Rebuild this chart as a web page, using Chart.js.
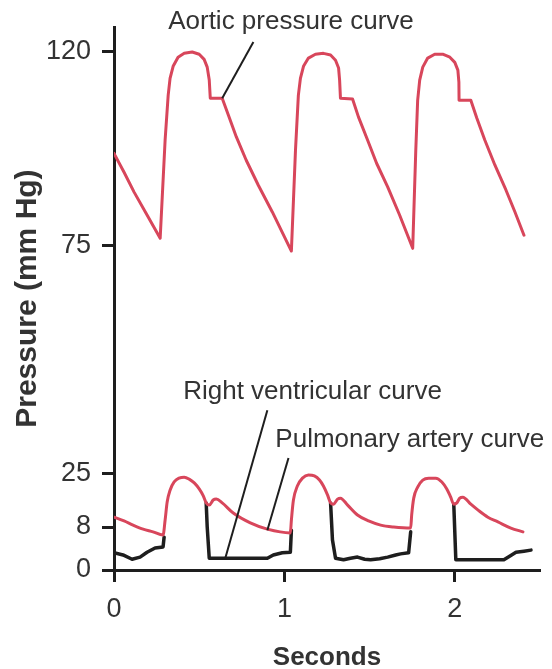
<!DOCTYPE html>
<html>
<head>
<meta charset="utf-8">
<script src="https://cdn.jsdelivr.net/npm/chart.js@4/dist/chart.umd.min.js"></script>
<style>
  html, body { margin: 0; padding: 0; background: #fff; }
  #wrap { width: 552px; height: 669px; }
</style>
</head>
<body>
<div id="wrap"><canvas id="pressureChart" width="552" height="669"></canvas></div>
<script>
// time in seconds, pressure in mm Hg
const aorticT = [0, 0.059, 0.118, 0.194, 0.271, 0.300, 0.318, 0.329, 0.347, 0.376, 0.412, 0.459, 0.500, 0.529, 0.547, 0.559, 0.565, 0.635, 0.671, 0.718, 0.776, 0.847, 0.929, 1.041,
  1.065, 1.082, 1.094, 1.112, 1.141, 1.182, 1.229, 1.271, 1.300, 1.318, 1.324, 1.329, 1.400, 1.435, 1.488, 1.541, 1.606, 1.676, 1.753,
  1.771, 1.782, 1.794, 1.812, 1.841, 1.882, 1.929, 1.971, 2.000, 2.018, 2.024, 2.025, 2.094, 2.129, 2.176, 2.235, 2.300, 2.353, 2.406];
const aorticP = [96.3, 91.9, 87.3, 82.0, 76.6, 99.4, 109.8, 113.7, 116.5, 118.6, 119.5, 119.8, 119.3, 118.1, 116.3, 113.3, 109.1, 109.1, 105.2, 100.1, 94.7, 88.9, 82.7, 73.7,
  97.0, 109.8, 113.7, 116.5, 118.4, 119.3, 119.5, 119.1, 117.9, 116.1, 113.3, 109.1, 108.9, 104.7, 99.4, 94.0, 88.5, 82.0, 74.3,
  97.0, 108.6, 113.3, 116.3, 118.4, 119.3, 119.3, 118.6, 117.4, 115.6, 112.8, 108.6, 108.6, 104.5, 99.4, 93.6, 87.8, 82.7, 77.3];

const pulmT = [0, 0.059, 0.112, 0.171, 0.229, 0.288, 0.300, 0.312, 0.329, 0.353, 0.382, 0.412, 0.441, 0.471, 0.500, 0.524, 0.541, 0.559, 0.582, 0.600, 0.635, 0.700, 0.800, 0.900, 1.035,
  1.041, 1.053, 1.076, 1.106, 1.141, 1.176, 1.206, 1.229, 1.253, 1.271, 1.288, 1.312, 1.329, 1.371, 1.429, 1.494, 1.565, 1.641, 1.741,
  1.747, 1.759, 1.782, 1.812, 1.847, 1.888, 1.924, 1.953, 1.976, 1.994, 2.012, 2.029, 2.047, 2.094, 2.135, 2.194, 2.253, 2.329, 2.400];
const pulmP = [11.1, 9.9, 8.6, 7.6, 7.1, 6.5, 10.2, 15.9, 19.6, 22.2, 23.4, 23.7, 23.1, 21.9, 20.0, 17.8, 15.6, 14.9, 16.5, 16.8, 15.6, 12.4, 9.3, 7.6, 6.9,
  10.2, 16.5, 20.9, 23.4, 24.4, 24.1, 22.8, 20.9, 18.1, 15.6, 15.2, 16.8, 17.1, 14.9, 11.8, 9.9, 8.6, 8.0, 7.8,
  11.8, 17.1, 20.6, 22.8, 23.4, 23.4, 22.2, 20.0, 17.4, 15.2, 15.6, 17.1, 17.4, 15.2, 13.4, 11.1, 9.6, 7.8, 7.1];

// right ventricle; hidden under the pulmonary curve during ejection (null = gap)
const rvT = [0, 0.053, 0.106, 0.153, 0.194, 0.241, 0.288, 0.294, 0.42, 0.541, 0.547, 0.559, 0.900, 0.935, 0.988, 1.035, 1.041,
  1.15, 1.271, 1.282, 1.300, 1.347, 1.388, 1.429, 1.471, 1.506, 1.559, 1.606, 1.653, 1.682, 1.729, 1.741,
  1.87, 1.994, 2.006, 2.288, 2.324, 2.359, 2.406, 2.447];
const rvP = [3.2, 2.8, 2.0, 2.4, 3.3, 4.1, 4.3, 6.1, null, 15.6, 8.0, 2.2, 2.2, 2.8, 3.2, 3.3, 7.4,
  null, 15.6, 5.6, 2.2, 1.9, 2.2, 2.4, 2.0, 1.9, 2.1, 2.4, 2.8, 3.0, 3.2, 7.1,
  null, 15.2, 1.9, 1.9, 2.6, 3.3, 3.5, 3.7];

const xTicks = [0, 1, 2];
const yTicks = [0, 8, 25, 75, 120];

// the figure's pressure axis is not evenly spaced: value -> share of axis height
const yBreakValues = [0, 8, 25, 75, 120, 125.5];
const yBreakShares = [0, 0.0792, 0.1786, 0.5985, 0.9558, 1];

// callout labels, placed in data units
const notes = [
  { text: 'Aortic pressure curve', at: [0.318, 126.7], from: [0.818, 122.1], to: [0.635, 109.1] },
  { text: 'Right ventricular curve', at: [0.406, 42.8], from: [0.900, 38.8], to: [0.653, 2.2] },
  { text: 'Pulmonary artery curve', at: [0.947, 32.2], from: [1.024, 28.3], to: [0.900, 7.4] }
];

const RED = '#d8465b';
const INK = '#1e1e1e';
const TXT = '#333333';
const FONT = '"Liberation Sans", Arial, sans-serif';

function toShare(v) {
  const n = yBreakValues.length;
  let i = 0;
  while (i < n - 2 && v > yBreakValues[i + 1]) i++;
  const v0 = yBreakValues[i], v1 = yBreakValues[i + 1];
  const s0 = yBreakShares[i], s1 = yBreakShares[i + 1];
  return s0 + (v - v0) / (v1 - v0) * (s1 - s0);
}
function fromShare(s) {
  const n = yBreakShares.length;
  let i = 0;
  while (i < n - 2 && s > yBreakShares[i + 1]) i++;
  const v0 = yBreakValues[i], v1 = yBreakValues[i + 1];
  const s0 = yBreakShares[i], s1 = yBreakShares[i + 1];
  return v0 + (s - s0) / (s1 - s0) * (v1 - v0);
}

const LinearScale = Chart.LinearScale || Chart.registry.getScale('linear');
class PiecewiseScale extends LinearScale {
  getPixelForValue(value) {
    if (value === null || isNaN(value)) return NaN;
    return this.getPixelForDecimal(toShare(value));
  }
  getValueForPixel(pixel) {
    return fromShare(this.getDecimalForPixel(pixel));
  }
}
PiecewiseScale.id = 'piecewise';
PiecewiseScale.defaults = LinearScale.defaults;
Chart.register(PiecewiseScale);

const pairs = (t, p) => t.map((x, i) => ({ x: x, y: p[i] }));

const calloutPlugin = {
  id: 'callouts',
  afterDatasetsDraw(chart) {
    const ctx = chart.ctx;
    const xs = chart.scales.x, ys = chart.scales.y;
    const px = a => [xs.getPixelForValue(a[0]), ys.getPixelForValue(a[1])];
    ctx.save();
    ctx.strokeStyle = INK;
    ctx.lineWidth = 2;
    ctx.fillStyle = TXT;
    ctx.font = '26px ' + FONT;
    ctx.textAlign = 'left';
    ctx.textBaseline = 'middle';
    notes.forEach(n => {
      const a = px(n.from), b = px(n.to), c = px(n.at);
      ctx.beginPath();
      ctx.moveTo(a[0], a[1]);
      ctx.lineTo(b[0], b[1]);
      ctx.stroke();
      ctx.fillText(n.text, c[0], c[1]);
    });
    ctx.restore();
  }
};

new Chart(document.getElementById('pressureChart'), {
  type: 'line',
  data: {
    datasets: [
      {
        label: 'Aortic pressure curve',
        data: pairs(aorticT, aorticP),
        borderColor: RED,
        borderWidth: 3,
        order: 1
      },
      {
        label: 'Pulmonary artery curve',
        data: pairs(pulmT, pulmP),
        borderColor: RED,
        borderWidth: 3,
        cubicInterpolationMode: 'monotone',
        order: 1
      },
      {
        label: 'Right ventricular curve',
        data: pairs(rvT, rvP),
        borderColor: INK,
        borderWidth: 3.5,
        spanGaps: false,
        order: 2
      }
    ]
  },
  options: {
    responsive: false,
    animation: false,
    devicePixelRatio: 1,
    layout: { padding: { top: 27, right: 12, left: 0, bottom: 0 } },
    elements: {
      point: { radius: 0, hoverRadius: 0 },
      line: { tension: 0, borderJoinStyle: 'round', borderCapStyle: 'round', fill: false }
    },
    plugins: {
      legend: { display: false },
      tooltip: { enabled: false }
    },
    scales: {
      x: {
        type: 'linear',
        min: 0,
        max: 2.5,
        afterFit: s => { s.height = 99; },
        afterBuildTicks: s => { s.ticks = xTicks.map(v => ({ value: v })); },
        ticks: { color: TXT, font: { family: FONT, size: 27 }, padding: 11 },
        grid: { drawOnChartArea: false, tickLength: 12, tickWidth: 3, tickColor: INK },
        border: { color: INK, width: 3 },
        title: {
          display: true,
          text: 'Seconds',
          color: TXT,
          font: { family: FONT, size: 26, weight: 'bold', lineHeight: 1 },
          padding: { top: 0, bottom: -2 }
        }
      },
      y: {
        type: 'piecewise',
        min: 0,
        max: 125.5,
        afterFit: s => { s.width = 114; },
        afterBuildTicks: s => { s.ticks = yTicks.map(v => ({ value: v })); },
        ticks: { color: TXT, font: { family: FONT, size: 27 }, padding: 11 },
        grid: { drawOnChartArea: false, tickLength: 12, tickWidth: 3, tickColor: INK },
        border: { color: INK, width: 3 },
        title: {
          display: true,
          text: 'Pressure (mm Hg)',
          color: TXT,
          font: { family: FONT, size: 30, weight: 'bold', lineHeight: 1 },
          padding: { top: 13, bottom: 0 }
        }
      }
    }
  },
  plugins: [calloutPlugin]
});
</script>
</body>
</html>
